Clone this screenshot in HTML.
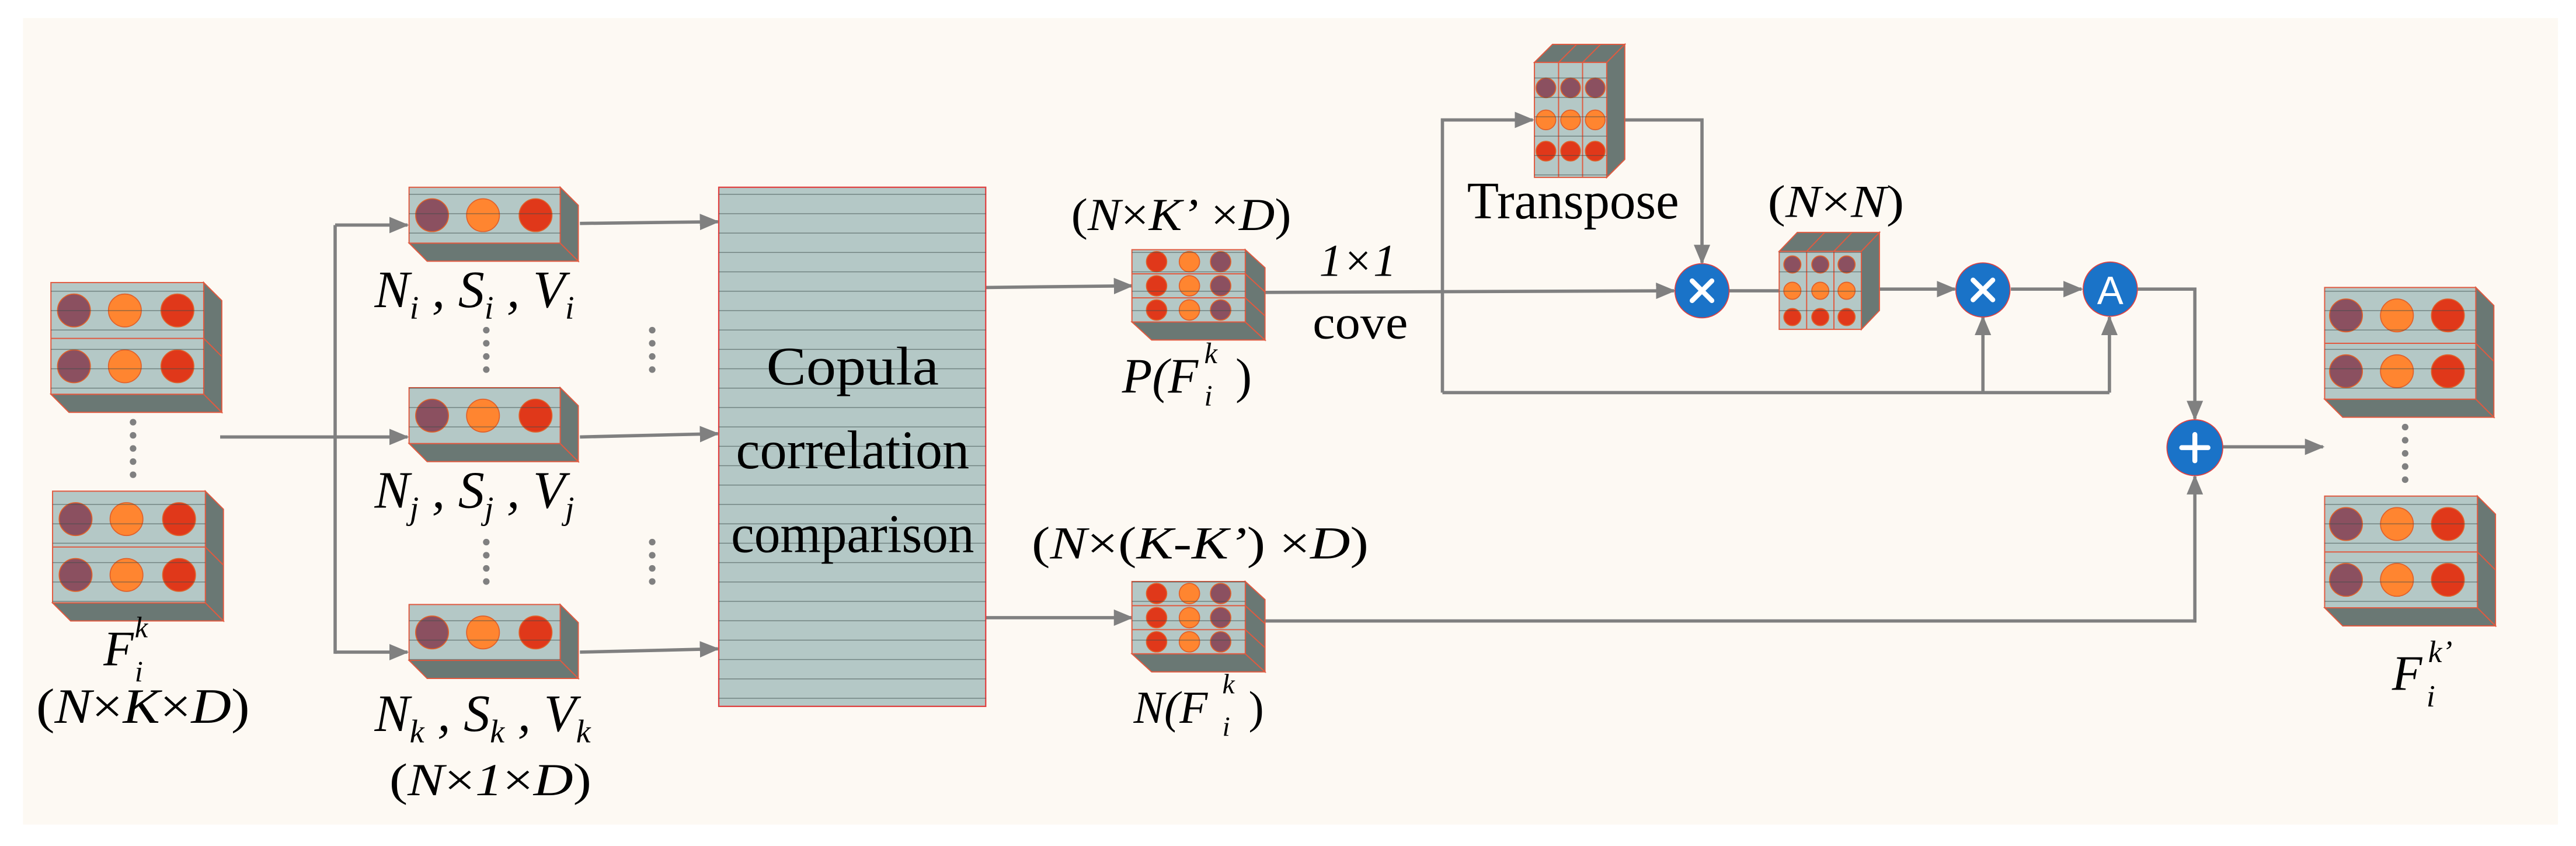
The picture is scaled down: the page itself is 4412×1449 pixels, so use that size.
<!DOCTYPE html>
<html><head><meta charset="utf-8"><style>
html,body{margin:0;padding:0;background:#fff;}
svg{display:block;}
svg text{font-family:"Liberation Serif","DejaVu Serif","Noto Serif CJK SC","Noto Serif CJK JP",serif !important;fill:#000;}
svg text.sans{font-family:"Liberation Sans","DejaVu Sans",sans-serif !important;fill:#fff;}
.it{font-style:italic;}
</style></head><body>
<svg width="4412" height="1449" viewBox="0 0 1568 515" preserveAspectRatio="none" xmlns="http://www.w3.org/2000/svg">
<defs>
<pattern id="st" patternUnits="userSpaceOnUse" width="20" height="11.8">
<line x1="0" y1="0.3" x2="20" y2="0.3" stroke="#3a4a48" stroke-width="0.5" opacity="0.6"/>
</pattern>
<marker id="ar" markerWidth="12" markerHeight="10" refX="11" refY="5" orient="auto" markerUnits="userSpaceOnUse">
<path d="M0,0 L12,5 L0,10 Z" fill="#808080"/>
</marker>
</defs>
<rect width="1568" height="515" fill="#fff"/>
<rect x="14" y="11" width="1543" height="491" fill="#fdf9f3"/>

<g fill="none" stroke="#808080" stroke-width="2">
<line x1="134" y1="266" x2="248" y2="266" marker-end="url(#ar)"/>
<line x1="204" y1="137" x2="204" y2="398"/>
<line x1="204" y1="137" x2="248" y2="137" marker-end="url(#ar)"/>
<line x1="204" y1="397" x2="248" y2="397" marker-end="url(#ar)"/>
<line x1="353" y1="136" x2="437" y2="135" marker-end="url(#ar)"/>
<line x1="353" y1="266" x2="437" y2="264" marker-end="url(#ar)"/>
<line x1="353" y1="397" x2="437" y2="395" marker-end="url(#ar)"/>
<line x1="600" y1="175" x2="689" y2="174" marker-end="url(#ar)"/>
<line x1="600" y1="376" x2="689" y2="376" marker-end="url(#ar)"/>
<line x1="770" y1="178" x2="1019" y2="177" marker-end="url(#ar)"/>
<polyline points="878,239 878,73 933,73" marker-end="url(#ar)"/>
<line x1="878" y1="239" x2="1284" y2="239"/>
<line x1="1207" y1="239" x2="1207" y2="193" marker-end="url(#ar)"/>
<line x1="1284" y1="239" x2="1284" y2="193" marker-end="url(#ar)"/>
<polyline points="989,73 1036,73 1036,160" marker-end="url(#ar)"/>
<line x1="1052" y1="177" x2="1083" y2="177"/>
<line x1="1144" y1="176" x2="1190" y2="176" marker-end="url(#ar)"/>
<line x1="1224" y1="176" x2="1267" y2="176" marker-end="url(#ar)"/>
<polyline points="1301,176 1336,176 1336,255" marker-end="url(#ar)"/>
<polyline points="770,378 1336,378 1336,290" marker-end="url(#ar)"/>
<line x1="1353" y1="272" x2="1414" y2="272" marker-end="url(#ar)"/>
</g>

<rect x="437.5" y="114" width="162.5" height="316" fill="#b4c8c6" stroke="#e04040" stroke-width="0.8"/>
<rect x="437.5" y="114" width="162.5" height="316" fill="url(#st)"/>
<text x="519" y="234" font-size="33" text-anchor="middle" textLength="105" lengthAdjust="spacingAndGlyphs">Copula</text>
<text x="519" y="285" font-size="33" text-anchor="middle" textLength="142" lengthAdjust="spacingAndGlyphs">correlation</text>
<text x="519" y="336" font-size="33" text-anchor="middle" textLength="148" lengthAdjust="spacingAndGlyphs">comparison</text>

<g stroke="#e05a40" stroke-width="0.7">
<polygon points="31,240 124,240 135,251 42,251" fill="#6a7874"/>
<polygon points="124,172 135,183 135,251 124,240" fill="#6a7874"/>
<rect x="31" y="172" width="93" height="68" fill="#b4c8c6"/>
<line x1="31" y1="206" x2="124" y2="206"/>
<line x1="124" y1="206" x2="135" y2="217"/>
<polygon points="32,367 125,367 136,378 43,378" fill="#6a7874"/>
<polygon points="125,299 136,310 136,378 125,367" fill="#6a7874"/>
<rect x="32" y="299" width="93" height="68" fill="#b4c8c6"/>
<line x1="32" y1="333" x2="125" y2="333"/>
<line x1="125" y1="333" x2="136" y2="344"/>
<polygon points="1415,243 1507,243 1518,254 1426,254" fill="#6a7874"/>
<polygon points="1507,175 1518,186 1518,254 1507,243" fill="#6a7874"/>
<rect x="1415" y="175" width="92" height="68" fill="#b4c8c6"/>
<line x1="1415" y1="209" x2="1507" y2="209"/>
<line x1="1507" y1="209" x2="1518" y2="220"/>
<polygon points="1415,370 1508,370 1519,381 1426,381" fill="#6a7874"/>
<polygon points="1508,302 1519,313 1519,381 1508,370" fill="#6a7874"/>
<rect x="1415" y="302" width="93" height="68" fill="#b4c8c6"/>
<line x1="1415" y1="336" x2="1508" y2="336"/>
<line x1="1508" y1="336" x2="1519" y2="347"/>
<polygon points="249,148 341,148 352,159 260,159" fill="#6a7874"/>
<polygon points="341,114 352,125 352,159 341,148" fill="#6a7874"/>
<rect x="249" y="114" width="92" height="34" fill="#b4c8c6"/>
<polygon points="249,270 341,270 352,281 260,281" fill="#6a7874"/>
<polygon points="341,236 352,247 352,281 341,270" fill="#6a7874"/>
<rect x="249" y="236" width="92" height="34" fill="#b4c8c6"/>
<polygon points="249,402 341,402 352,413 260,413" fill="#6a7874"/>
<polygon points="341,368 352,379 352,413 341,402" fill="#6a7874"/>
<rect x="249" y="368" width="92" height="34" fill="#b4c8c6"/>
<polygon points="689,196 758,196 770,207 701,207" fill="#6a7874"/>
<polygon points="758,152 770,163 770,207 758,196" fill="#6a7874"/>
<rect x="689" y="152" width="69" height="44" fill="#b4c8c6"/>
<line x1="689" y1="166.7" x2="758" y2="166.7"/><line x1="689" y1="181.3" x2="758" y2="181.3"/>
<line x1="758" y1="166.7" x2="770" y2="177.7"/><line x1="758" y1="181.3" x2="770" y2="192.3"/>
<polygon points="689,398 758,398 770,409 701,409" fill="#6a7874"/>
<polygon points="758,354 770,365 770,409 758,398" fill="#6a7874"/>
<rect x="689" y="354" width="69" height="44" fill="#b4c8c6"/>
<line x1="689" y1="368.7" x2="758" y2="368.7"/><line x1="689" y1="383.3" x2="758" y2="383.3"/>
<line x1="758" y1="368.7" x2="770" y2="379.7"/><line x1="758" y1="383.3" x2="770" y2="394.3"/>
<polygon points="934,38 978,38 989,27 945,27" fill="#6a7874"/>
<polygon points="978,38 989,27 989,97 978,108" fill="#6a7874"/>
<rect x="934" y="38" width="44" height="70" fill="#b4c8c6"/>
<line x1="948.7" y1="38" x2="948.7" y2="108"/><line x1="963.3" y1="38" x2="963.3" y2="108"/>
<line x1="948.7" y1="38" x2="959.7" y2="27"/><line x1="963.3" y1="38" x2="974.3" y2="27"/>
<polygon points="1083,153 1133,153 1144,141.5 1094,141.5" fill="#6a7874"/>
<polygon points="1133,153 1144,141.5 1144,189 1133,200.5" fill="#6a7874"/>
<rect x="1083" y="153" width="50" height="47.5" fill="#b4c8c6"/>
<line x1="1099.7" y1="153" x2="1099.7" y2="200.5"/><line x1="1116.3" y1="153" x2="1116.3" y2="200.5"/>
<line x1="1099.7" y1="153" x2="1110.7" y2="141.5"/><line x1="1116.3" y1="153" x2="1127.3" y2="141.5"/>
</g>

<g stroke="#e0602a" stroke-width="0.6">
<g fill="#8b5060"><circle cx="45" cy="189" r="10"/><circle cx="45" cy="223" r="10"/><circle cx="46" cy="316" r="10"/><circle cx="46" cy="350" r="10"/>
<circle cx="1428" cy="192" r="10"/><circle cx="1428" cy="226" r="10"/><circle cx="1428" cy="319" r="10"/><circle cx="1428" cy="353" r="10"/>
<circle cx="263" cy="131" r="10"/><circle cx="263" cy="253" r="10"/><circle cx="263" cy="385" r="10"/>
<circle cx="743" cy="159.3" r="6.2"/><circle cx="743" cy="174" r="6.2"/><circle cx="743" cy="188.7" r="6.2"/>
<circle cx="743" cy="361.3" r="6.2"/><circle cx="743" cy="376" r="6.2"/><circle cx="743" cy="390.7" r="6.2"/>
<circle cx="941" cy="53.5" r="6"/><circle cx="956" cy="53.5" r="6"/><circle cx="971" cy="53.5" r="6"/>
<circle cx="1091" cy="161" r="5.2"/><circle cx="1108" cy="161" r="5.2"/><circle cx="1124" cy="161" r="5.2"/></g>
<g fill="#ff8530"><circle cx="76" cy="189" r="10"/><circle cx="76" cy="223" r="10"/><circle cx="77" cy="316" r="10"/><circle cx="77" cy="350" r="10"/>
<circle cx="1459" cy="192" r="10"/><circle cx="1459" cy="226" r="10"/><circle cx="1459" cy="319" r="10"/><circle cx="1459" cy="353" r="10"/>
<circle cx="294" cy="131" r="10"/><circle cx="294" cy="253" r="10"/><circle cx="294" cy="385" r="10"/>
<circle cx="724" cy="159.3" r="6.2"/><circle cx="724" cy="174" r="6.2"/><circle cx="724" cy="188.7" r="6.2"/>
<circle cx="724" cy="361.3" r="6.2"/><circle cx="724" cy="376" r="6.2"/><circle cx="724" cy="390.7" r="6.2"/>
<circle cx="941" cy="73" r="6"/><circle cx="956" cy="73" r="6"/><circle cx="971" cy="73" r="6"/>
<circle cx="1091" cy="177" r="5.2"/><circle cx="1108" cy="177" r="5.2"/><circle cx="1124" cy="177" r="5.2"/></g>
<g fill="#e0381a"><circle cx="108" cy="189" r="10"/><circle cx="108" cy="223" r="10"/><circle cx="109" cy="316" r="10"/><circle cx="109" cy="350" r="10"/>
<circle cx="1490" cy="192" r="10"/><circle cx="1490" cy="226" r="10"/><circle cx="1490" cy="319" r="10"/><circle cx="1490" cy="353" r="10"/>
<circle cx="326" cy="131" r="10"/><circle cx="326" cy="253" r="10"/><circle cx="326" cy="385" r="10"/>
<circle cx="704" cy="159.3" r="6.2"/><circle cx="704" cy="174" r="6.2"/><circle cx="704" cy="188.7" r="6.2"/>
<circle cx="704" cy="361.3" r="6.2"/><circle cx="704" cy="376" r="6.2"/><circle cx="704" cy="390.7" r="6.2"/>
<circle cx="941" cy="92" r="6"/><circle cx="956" cy="92" r="6"/><circle cx="971" cy="92" r="6"/>
<circle cx="1091" cy="193" r="5.2"/><circle cx="1108" cy="193" r="5.2"/><circle cx="1124" cy="193" r="5.2"/></g>
</g>

<g fill="url(#st)">
<rect x="31" y="172" width="93" height="68"/><rect x="32" y="299" width="93" height="68"/>
<rect x="1415" y="175" width="92" height="68"/><rect x="1415" y="302" width="93" height="68"/>
<rect x="249" y="114" width="92" height="34"/><rect x="249" y="236" width="92" height="34"/><rect x="249" y="368" width="92" height="34"/>
<rect x="689" y="152" width="69" height="44"/><rect x="689" y="354" width="69" height="44"/>
<rect x="934" y="38" width="44" height="70"/><rect x="1083" y="153" width="50" height="47"/>
</g>

<g stroke="#e04040" stroke-width="0.6" fill="#1a73c8">
<circle cx="1036" cy="177" r="16.5"/><circle cx="1207" cy="176.5" r="16.5"/><circle cx="1284.5" cy="176" r="16.5"/><circle cx="1336" cy="272.5" r="17"/>
</g>
<g stroke="#fff" stroke-width="3" stroke-linecap="round">
<line x1="1030" y1="171" x2="1042" y2="183"/><line x1="1042" y1="171" x2="1030" y2="183"/>
<line x1="1201" y1="170.5" x2="1213" y2="182.5"/><line x1="1213" y1="170.5" x2="1201" y2="182.5"/>
<line x1="1328" y1="272.5" x2="1344" y2="272.5"/><line x1="1336" y1="264.5" x2="1336" y2="280.5"/>
</g>
<text class="sans" x="1284.5" y="185" font-size="24" text-anchor="middle">A</text>

<g fill="#808080">
<circle cx="81" cy="257" r="2"/><circle cx="81" cy="265" r="2"/><circle cx="81" cy="273" r="2"/><circle cx="81" cy="281" r="2"/><circle cx="81" cy="289" r="2"/>
<circle cx="296" cy="201" r="2"/><circle cx="296" cy="209" r="2"/><circle cx="296" cy="217" r="2"/><circle cx="296" cy="225" r="2"/>
<circle cx="296" cy="330" r="2"/><circle cx="296" cy="338" r="2"/><circle cx="296" cy="346" r="2"/><circle cx="296" cy="354" r="2"/>
<circle cx="397" cy="201" r="2"/><circle cx="397" cy="209" r="2"/><circle cx="397" cy="217" r="2"/><circle cx="397" cy="225" r="2"/>
<circle cx="397" cy="330" r="2"/><circle cx="397" cy="338" r="2"/><circle cx="397" cy="346" r="2"/><circle cx="397" cy="354" r="2"/>
<circle cx="1464" cy="260" r="2"/><circle cx="1464" cy="268" r="2"/><circle cx="1464" cy="276" r="2"/><circle cx="1464" cy="284" r="2"/><circle cx="1464" cy="292" r="2"/>
</g>

<text x="63" y="405" font-size="30" class="it">F</text>
<text x="82" y="388" font-size="18" class="it">k</text>
<text x="82" y="415" font-size="18" class="it">i</text>
<text x="22" y="440" font-size="30" textLength="130" lengthAdjust="spacingAndGlyphs">(<tspan class="it">N</tspan>×<tspan class="it">K</tspan>×<tspan class="it">D</tspan>)</text>

<text x="228" y="187" font-size="32" class="it">N<tspan font-size="20" dy="7">i</tspan><tspan dy="-7"> , S</tspan><tspan font-size="20" dy="7">i</tspan><tspan dy="-7"> , V</tspan><tspan font-size="20" dy="7">i</tspan></text>
<text x="228" y="309" font-size="32" class="it">N<tspan font-size="20" dy="7">j</tspan><tspan dy="-7"> , S</tspan><tspan font-size="20" dy="7">j</tspan><tspan dy="-7"> , V</tspan><tspan font-size="20" dy="7">j</tspan></text>
<text x="228" y="445" font-size="32" class="it">N<tspan font-size="20" dy="7">k</tspan><tspan dy="-7"> , S</tspan><tspan font-size="20" dy="7">k</tspan><tspan dy="-7"> , V</tspan><tspan font-size="20" dy="7">k</tspan></text>
<text x="237" y="484" font-size="28" textLength="123" lengthAdjust="spacingAndGlyphs">(<tspan class="it">N</tspan>×<tspan class="it">1</tspan>×<tspan class="it">D</tspan>)</text>

<text x="652" y="140" font-size="28" textLength="134" lengthAdjust="spacingAndGlyphs">(<tspan class="it">N</tspan>×<tspan class="it">K’</tspan> ×<tspan class="it">D</tspan>)</text>
<text x="683" y="239" font-size="30" class="it">P(</text>
<text x="711" y="239" font-size="30" class="it">F</text>
<text x="733" y="221" font-size="18" class="it">k</text>
<text x="733" y="247" font-size="18" class="it">i</text>
<text x="752" y="239" font-size="30">)</text>
<text x="803" y="168" font-size="28" class="it">1×1</text>
<text x="799" y="206" font-size="29" textLength="58" lengthAdjust="spacingAndGlyphs">cove</text>

<text x="628" y="340" font-size="28" textLength="205" lengthAdjust="spacingAndGlyphs">(<tspan class="it">N</tspan>×(<tspan class="it">K</tspan>-<tspan class="it">K’</tspan>) ×<tspan class="it">D</tspan>)</text>
<text x="690" y="440" font-size="28" class="it">N(F</text>
<text x="744" y="422" font-size="17" class="it">k</text>
<text x="744" y="448" font-size="17" class="it">i</text>
<text x="760" y="440" font-size="28">)</text>

<text x="893" y="133" font-size="32" textLength="129" lengthAdjust="spacingAndGlyphs">Transpose</text>
<text x="1076" y="132" font-size="28" textLength="83" lengthAdjust="spacingAndGlyphs">(<tspan class="it">N</tspan>×<tspan class="it">N</tspan>)</text>

<text x="1456" y="420" font-size="30" class="it">F</text>
<text x="1478" y="403" font-size="19" class="it">k’</text>
<text x="1477" y="430" font-size="19" class="it">i</text>
</svg>
</body></html>
